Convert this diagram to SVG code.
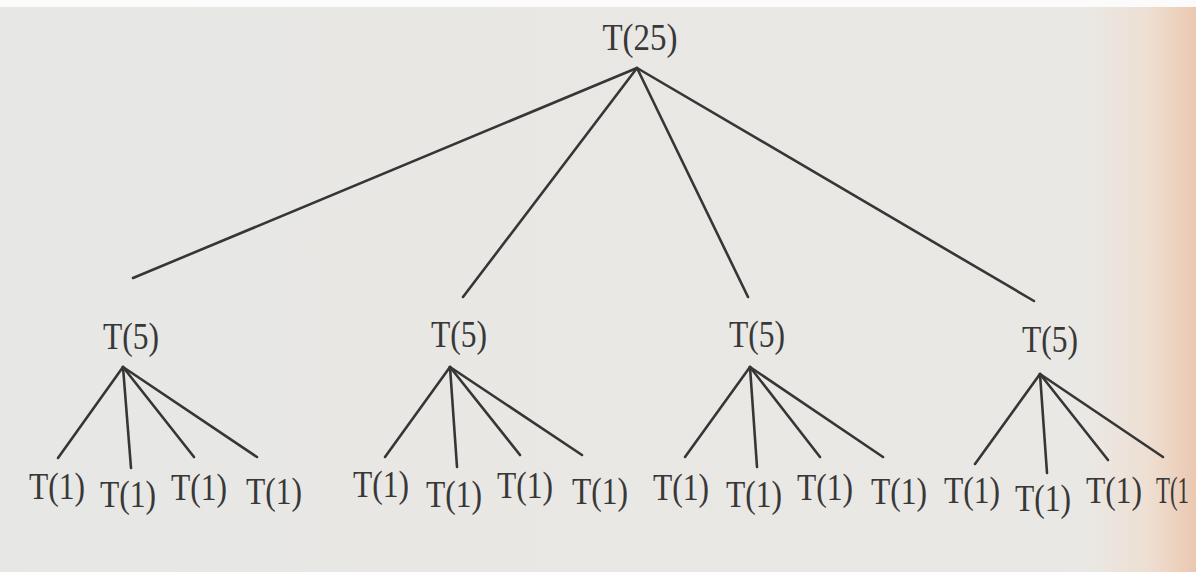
<svg xmlns="http://www.w3.org/2000/svg" width="1196" height="572" viewBox="0 0 1196 572">
  <defs>
    <linearGradient id="paper" x1="0" y1="0" x2="1" y2="0">
      <stop offset="0" stop-color="#e7e7e5"/>
      <stop offset="0.91" stop-color="#eae8e4"/>
      <stop offset="0.96" stop-color="#eedfd2"/>
      <stop offset="1" stop-color="#ebc8b0"/>
    </linearGradient>
    <style>
      .lbl { font-family: "Liberation Serif", "Times New Roman", serif; fill: #383838; text-anchor: middle; font-size: 37px; }
      .edge { stroke: #363636; stroke-width: 2.6; stroke-linecap: round; fill: none; }
    </style>
  </defs>

  <!-- page background -->
  <rect x="0" y="0" width="1196" height="572" fill="url(#paper)"/>
  <rect x="0" y="0" width="1196" height="7" fill="#fbfbfb"/>

  <!-- connectors -->
  <g id="connectors">
    <!-- root to T(5) nodes -->
    <line class="edge" x1="637" y1="68" x2="133" y2="278"/>
    <line class="edge" x1="637" y1="68" x2="463" y2="297"/>
    <line class="edge" x1="637" y1="68" x2="748" y2="297"/>
    <line class="edge" x1="637" y1="68" x2="1034" y2="301"/>
    <!-- first T(5) -->
    <line class="edge" x1="123" y1="367" x2="58" y2="458"/>
    <line class="edge" x1="123" y1="367" x2="131" y2="468"/>
    <line class="edge" x1="123" y1="367" x2="194" y2="457"/>
    <line class="edge" x1="123" y1="367" x2="257" y2="457"/>
    <!-- second T(5) -->
    <line class="edge" x1="450" y1="367" x2="385" y2="457"/>
    <line class="edge" x1="450" y1="367" x2="457" y2="467"/>
    <line class="edge" x1="450" y1="367" x2="520" y2="455"/>
    <line class="edge" x1="450" y1="367" x2="582" y2="455"/>
    <!-- third T(5) -->
    <line class="edge" x1="750" y1="367" x2="685" y2="457"/>
    <line class="edge" x1="750" y1="367" x2="757" y2="467"/>
    <line class="edge" x1="750" y1="367" x2="820" y2="457"/>
    <line class="edge" x1="750" y1="367" x2="883" y2="457"/>
    <!-- fourth T(5) -->
    <line class="edge" x1="1040" y1="374" x2="975" y2="464"/>
    <line class="edge" x1="1040" y1="374" x2="1047" y2="473"/>
    <line class="edge" x1="1040" y1="374" x2="1108" y2="460"/>
    <line class="edge" x1="1040" y1="374" x2="1163" y2="457"/>
  </g>

  <!-- root -->
  <g id="n-root"><text class="lbl" x="640" y="50" textLength="75" lengthAdjust="spacingAndGlyphs">T(25)</text></g>

  <!-- second level -->
  <g id="n-a"><text class="lbl" x="131" y="349" textLength="56" lengthAdjust="spacingAndGlyphs">T(5)</text></g>
  <g id="n-b"><text class="lbl" x="459" y="347" textLength="56" lengthAdjust="spacingAndGlyphs">T(5)</text></g>
  <g id="n-c"><text class="lbl" x="757" y="347" textLength="56" lengthAdjust="spacingAndGlyphs">T(5)</text></g>
  <g id="n-d"><text class="lbl" x="1050" y="352" textLength="56" lengthAdjust="spacingAndGlyphs">T(5)</text></g>

  <!-- leaves under first T(5) -->
  <g id="n-a1"><text class="lbl" x="57" y="499" textLength="56" lengthAdjust="spacingAndGlyphs">T(1)</text></g>
  <g id="n-a2"><text class="lbl" x="128" y="507" textLength="56" lengthAdjust="spacingAndGlyphs">T(1)</text></g>
  <g id="n-a3"><text class="lbl" x="199" y="500" textLength="56" lengthAdjust="spacingAndGlyphs">T(1)</text></g>
  <g id="n-a4"><text class="lbl" x="274" y="504" textLength="56" lengthAdjust="spacingAndGlyphs">T(1)</text></g>

  <!-- leaves under second T(5) -->
  <g id="n-b1"><text class="lbl" x="381" y="497" textLength="56" lengthAdjust="spacingAndGlyphs">T(1)</text></g>
  <g id="n-b2"><text class="lbl" x="454" y="507" textLength="56" lengthAdjust="spacingAndGlyphs">T(1)</text></g>
  <g id="n-b3"><text class="lbl" x="525" y="498" textLength="56" lengthAdjust="spacingAndGlyphs">T(1)</text></g>
  <g id="n-b4"><text class="lbl" x="600" y="504" textLength="56" lengthAdjust="spacingAndGlyphs">T(1)</text></g>

  <!-- leaves under third T(5) -->
  <g id="n-c1"><text class="lbl" x="681" y="500" textLength="56" lengthAdjust="spacingAndGlyphs">T(1)</text></g>
  <g id="n-c2"><text class="lbl" x="754" y="507" textLength="56" lengthAdjust="spacingAndGlyphs">T(1)</text></g>
  <g id="n-c3"><text class="lbl" x="825" y="500" textLength="56" lengthAdjust="spacingAndGlyphs">T(1)</text></g>
  <g id="n-c4"><text class="lbl" x="899" y="504" textLength="56" lengthAdjust="spacingAndGlyphs">T(1)</text></g>

  <!-- leaves under fourth T(5) -->
  <g id="n-d1"><text class="lbl" x="972" y="503" textLength="56" lengthAdjust="spacingAndGlyphs">T(1)</text></g>
  <g id="n-d2"><text class="lbl" x="1043" y="511" textLength="56" lengthAdjust="spacingAndGlyphs">T(1)</text></g>
  <g id="n-d3"><text class="lbl" x="1114" y="503" textLength="56" lengthAdjust="spacingAndGlyphs">T(1)</text></g>
  <g id="n-d4"><text class="lbl" x="1156" y="503" style="text-anchor:start" textLength="33" lengthAdjust="spacingAndGlyphs">T(1</text></g>
</svg>
